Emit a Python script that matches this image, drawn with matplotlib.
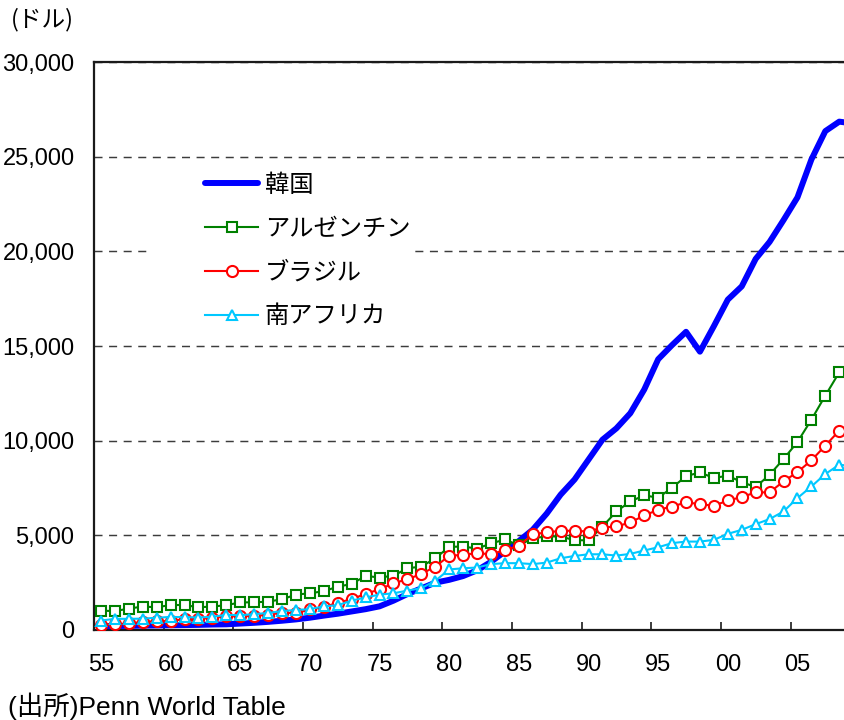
import matplotlib
matplotlib.use("Agg")
import matplotlib.pyplot as plt
from matplotlib import font_manager
from matplotlib.font_manager import FontProperties
from matplotlib.ticker import FixedLocator
from matplotlib.patches import Rectangle

# GDP per capita (US dollars), 1955-2009
years = list(range(1955, 2010))

korea = [
    200, 210, 220, 230, 240, 250, 260, 270, 290, 300,
    340, 380, 430, 490, 560, 650, 760, 860, 980, 1100,
    1250, 1550, 1900, 2200, 2500, 2650, 2850, 3150, 3600, 4150,
    4700, 5300, 6150, 7150, 7950, 9000, 10050, 10650, 11450, 12700,
    14300, 15050, 15750, 14700, 16050, 17450, 18150, 19600, 20500, 21650,
    22850, 24850, 26350, 26850, 26750,
]
argentina = [
    1020, 1000, 1130, 1240, 1200, 1320, 1320, 1200, 1240, 1310,
    1460, 1460, 1500, 1620, 1870, 1940, 2050, 2290, 2430, 2860,
    2770, 2870, 3260, 3350, 3790, 4390, 4410, 4300, 4570, 4780,
    4470, 4850, 4940, 4940, 4740, 4740, 5460, 6260, 6790, 7110,
    6990, 7510, 8130, 8320, 8030, 8150, 7810, 7550, 8200, 9030,
    9930, 11110, 12380, 13610, 13650,
]
brazil = [
    290, 300, 350, 430, 470, 480, 570, 600, 630, 730,
    720, 750, 800, 920, 880, 1090, 1200, 1450, 1620, 1920,
    2140, 2470, 2680, 2960, 3350, 3920, 3970, 4060, 4000, 4230,
    4440, 5060, 5150, 5240, 5240, 5200, 5410, 5470, 5680, 6050,
    6350, 6520, 6740, 6650, 6560, 6840, 7020, 7270, 7270, 7850,
    8340, 8960, 9740, 10530, 10500,
]
south_africa = [
    500, 590, 590, 600, 650, 690, 680, 660, 700, 800,
    780, 840, 900, 1000, 1060, 1100, 1250, 1310, 1550, 1720,
    1870, 1940, 2080, 2210, 2600, 3200, 3260, 3300, 3480, 3530,
    3530, 3480, 3560, 3790, 3910, 4000, 4000, 3930, 4020, 4200,
    4370, 4590, 4670, 4670, 4760, 5080, 5290, 5590, 5860, 6260,
    6970, 7580, 8240, 8730, 8650,
]

series_names = ["韓国", "アルゼンチン", "ブラジル", "南アフリカ"]
x_label_years = [1955, 1960, 1965, 1970, 1975, 1980, 1985, 1990, 1995, 2000, 2005]
x_labels = ["55", "60", "65", "70", "75", "80", "85", "90", "95", "00", "05"]
y_ticks = [0, 5000, 10000, 15000, 20000, 25000, 30000]

_installed = {f.name for f in font_manager.fontManager.ttflist}
NUM_FONT = "Liberation Sans Narrow" if "Liberation Sans Narrow" in _installed else "Liberation Sans"
JP_FONT = "Noto Sans CJK JP"
plt.rcParams["font.family"] = [NUM_FONT, JP_FONT, "DejaVu Sans"]
NUM_SIZE = 20 if NUM_FONT.endswith("Narrow") else 17

W, H = 845, 720
fig = plt.figure(figsize=(W / 100, H / 100), dpi=100)

# plot area: one category per year, frame runs past the right edge of the canvas
year_px = 13.93
left_px, bottom_px, top_px = 94, 630, 62
ax = fig.add_axes([left_px / W, (H - bottom_px) / H,
                   55 * year_px / W, (bottom_px - top_px) / H])
ax.set_xlim(1954.5, 2009.5)
ax.set_ylim(0, 30000)

# dashed horizontal gridlines
ax.set_axisbelow(True)
ax.set_yticks(y_ticks)
ax.set_yticklabels([f"{v:,}" for v in y_ticks])
ax.yaxis.grid(True, linestyle=(0, (5.5, 4.5)), color="#3c3c3c", linewidth=1.05)

for side in ("left", "bottom", "top"):
    ax.spines[side].set_linewidth(1.6)
    ax.spines[side].set_color("#1a1a1a")
ax.spines["right"].set_visible(False)

ax.tick_params(axis="y", length=0, pad=14, labelsize=NUM_SIZE, labelcolor="black")
ax.set_xticks(x_label_years)
ax.set_xticklabels(x_labels)
ax.tick_params(axis="x", which="major", length=0, pad=17, labelsize=NUM_SIZE)
ax.xaxis.set_minor_locator(FixedLocator([y + 4.5 for y in x_label_years[:-1]]))
ax.tick_params(axis="x", which="minor", direction="in", length=5.5, width=1.2,
               color="#1a1a1a")

# white box behind the legend hides the gridline under it
ax.add_patch(Rectangle((150 / W, 1 - 338 / H), 260 / W, 175 / H,
                       transform=fig.transFigure, facecolor="white",
                       edgecolor="none", zorder=1))

ax.plot(years, korea, color="#0000FF", linewidth=4.3, solid_capstyle="round",
        solid_joinstyle="round", zorder=3, label=series_names[0])
ax.plot(years, argentina, color="#008000", linewidth=1.5, marker="s",
        markersize=7.5, markerfacecolor="white", markeredgecolor="#008000",
        markeredgewidth=1.5, zorder=4, label=series_names[1])
ax.plot(years, brazil, color="#FF0000", linewidth=1.5, marker="o",
        markersize=8, markerfacecolor="white", markeredgecolor="#FF0000",
        markeredgewidth=1.5, zorder=5, label=series_names[2])
ax.plot(years, south_africa, color="#00C8FF", linewidth=1.5, marker="^",
        markersize=7, markerfacecolor="white", markeredgecolor="#00C8FF",
        markeredgewidth=1.5, zorder=6, label=series_names[3])

leg = ax.legend(loc="upper left", bbox_to_anchor=(205 / W, 1 - 172 / H),
                bbox_transform=fig.transFigure, frameon=False,
                prop=FontProperties(family=JP_FONT, size=17.5),
                handlelength=2.2, handletextpad=0.25, labelspacing=0.73,
                borderpad=0, borderaxespad=0)
leg.set_zorder(10)

fig.text(11 / W, 1 - 20 / H, "(ドル)", family=JP_FONT, fontsize=17,
         ha="left", va="center")
fig.text(8 / W, 1 - 706 / H, "(出所)Penn World Table",
         family=[NUM_FONT, JP_FONT], fontsize=19, ha="left", va="center")

fig.savefig("out.png", dpi=100)
